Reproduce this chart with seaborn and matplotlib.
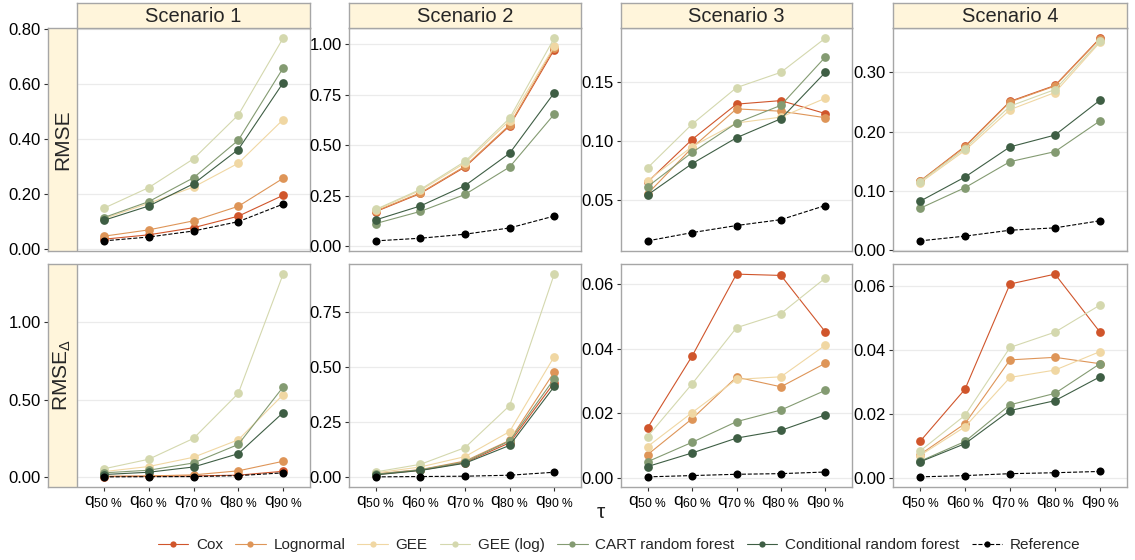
import numpy as np
import pandas as pd
import matplotlib
matplotlib.use("Agg")
import matplotlib.pyplot as plt
from matplotlib.patches import Rectangle
from matplotlib.lines import Line2D
import seaborn as sns

sns.set_theme(style="white")
plt.rcParams['font.family'] = ['Liberation Sans', 'DejaVu Sans']
plt.rcParams['mathtext.fontset'] = 'custom'
plt.rcParams['mathtext.rm'] = 'Liberation Sans'
plt.rcParams['mathtext.it'] = 'Liberation Sans'
plt.rcParams['mathtext.bf'] = 'Liberation Sans:bold'

# ---------------- data ----------------
quantiles = ["50", "60", "70", "80", "90"]
scenarios = ["Scenario 1", "Scenario 2", "Scenario 3", "Scenario 4"]
methods = ["Cox", "Lognormal", "GEE", "GEE (log)", "CART random forest",
           "Conditional random forest", "Reference"]
colors = ["#D0552B", "#DE9558", "#F0D7A3", "#D4D8AE", "#849B72", "#3E5E44", "#000000"]

rmse_s1 = {
    "Cox": [0.034, 0.050, 0.076, 0.118, 0.194],
    "Lognormal": [0.045, 0.068, 0.101, 0.154, 0.256],
    "GEE": [0.109, 0.165, 0.224, 0.311, 0.470],
    "GEE (log)": [0.147, 0.222, 0.327, 0.487, 0.767],
    "CART random forest": [0.113, 0.171, 0.258, 0.395, 0.658],
    "Conditional random forest": [0.103, 0.155, 0.236, 0.361, 0.604],
    "Reference": [0.028, 0.042, 0.064, 0.098, 0.162],
}
rmse_s2 = {
    "Cox": [0.171, 0.261, 0.392, 0.596, 0.974],
    "Lognormal": [0.174, 0.264, 0.396, 0.601, 0.984],
    "GEE": [0.179, 0.276, 0.412, 0.622, 0.990],
    "GEE (log)": [0.182, 0.281, 0.420, 0.634, 1.031],
    "CART random forest": [0.112, 0.172, 0.256, 0.392, 0.654],
    "Conditional random forest": [0.130, 0.199, 0.300, 0.460, 0.760],
    "Reference": [0.026, 0.039, 0.059, 0.090, 0.149],
}
rmse_s3 = {
    "Cox": [0.065, 0.101, 0.131, 0.134, 0.123],
    "Lognormal": [0.055, 0.094, 0.127, 0.125, 0.1195],
    "GEE": [0.066, 0.095, 0.115, 0.120, 0.136],
    "GEE (log)": [0.077, 0.114, 0.145, 0.158, 0.187],
    "CART random forest": [0.061, 0.090, 0.115, 0.130, 0.171],
    "Conditional random forest": [0.054, 0.0805, 0.1025, 0.1186, 0.158],
    "Reference": [0.015, 0.022, 0.028, 0.033, 0.045],
}
rmse_s4 = {
    "Cox": [0.116, 0.175, 0.251, 0.278, 0.358],
    "Lognormal": [0.116, 0.174, 0.250, 0.277, 0.357],
    "GEE": [0.113, 0.168, 0.237, 0.266, 0.351],
    "GEE (log)": [0.115, 0.171, 0.243, 0.271, 0.353],
    "CART random forest": [0.070, 0.105, 0.149, 0.166, 0.218],
    "Conditional random forest": [0.082, 0.123, 0.174, 0.194, 0.253],
    "Reference": [0.015, 0.023, 0.033, 0.037, 0.049],
}
rmsed_s1 = {
    "Cox": [0.002, 0.004, 0.006, 0.011, 0.036],
    "Lognormal": [0.004, 0.006, 0.013, 0.039, 0.101],
    "GEE": [0.034, 0.067, 0.127, 0.240, 0.532],
    "GEE (log)": [0.052, 0.114, 0.249, 0.541, 1.313],
    "CART random forest": [0.026, 0.043, 0.090, 0.210, 0.582],
    "Conditional random forest": [0.015, 0.030, 0.064, 0.150, 0.416],
    "Reference": [0.000, 0.001, 0.002, 0.008, 0.026],
}
rmsed_s2 = {
    "Cox": [0.0105, 0.030, 0.065, 0.155, 0.429],
    "Lognormal": [0.0136, 0.033, 0.072, 0.166, 0.477],
    "GEE": [0.018, 0.045, 0.092, 0.206, 0.547],
    "GEE (log)": [0.0226, 0.057, 0.133, 0.324, 0.922],
    "CART random forest": [0.012, 0.032, 0.068, 0.163, 0.446],
    "Conditional random forest": [0.009, 0.029, 0.062, 0.143, 0.411],
    "Reference": [0.000, 0.0015, 0.003, 0.0075, 0.021],
}
rmsed_s3 = {
    "Cox": [0.0155, 0.0377, 0.0631, 0.0627, 0.0452],
    "Lognormal": [0.0072, 0.0183, 0.0312, 0.0282, 0.0355],
    "GEE": [0.0097, 0.0202, 0.0305, 0.0313, 0.0411],
    "GEE (log)": [0.0128, 0.0291, 0.0465, 0.0509, 0.0619],
    "CART random forest": [0.0050, 0.0110, 0.0174, 0.0210, 0.0271],
    "Conditional random forest": [0.0035, 0.0077, 0.0123, 0.0147, 0.0195],
    "Reference": [0.0003, 0.0007, 0.0011, 0.0013, 0.0018],
}
rmsed_s4 = {
    "Cox": [0.0113, 0.0277, 0.0607, 0.0638, 0.0456],
    "Lognormal": [0.0072, 0.0169, 0.0369, 0.0377, 0.0357],
    "GEE": [0.0069, 0.0159, 0.0314, 0.0337, 0.0395],
    "GEE (log)": [0.0083, 0.0195, 0.0408, 0.0456, 0.0541],
    "CART random forest": [0.0051, 0.0113, 0.0228, 0.0264, 0.0357],
    "Conditional random forest": [0.0049, 0.0106, 0.0210, 0.0241, 0.0316],
    "Reference": [0.0002, 0.0006, 0.0012, 0.0015, 0.0019],
}

row_labels = ["RMSE", r"RMSE$_{\Delta}$"]
panels = [[rmse_s1, rmse_s2, rmse_s3, rmse_s4],
          [rmsed_s1, rmsed_s2, rmsed_s3, rmsed_s4]]
yticks = [[[0, 0.2, 0.4, 0.6, 0.8], [0, 0.25, 0.5, 0.75, 1.0], [0.05, 0.10, 0.15], [0, 0.1, 0.2, 0.3]],
          [[0, 0.5, 1.0], [0, 0.25, 0.5, 0.75], [0, 0.02, 0.04, 0.06], [0, 0.02, 0.04, 0.06]]]

# ---------------- layout (pixels) ----------------
W, H = 1135, 560
fig = plt.figure(figsize=(W / 100, H / 100), dpi=100)
cols_px = [(77, 310), (349, 581), (621, 852), (893, 1127)]
rows_px = [(28, 251), (264, 487)]
strip_left = 48
border_col = "#A6A6A6"
strip_fill = "#FFF5DB"

def fx(x):
    return x / W

def fy(y):
    return 1 - y / H

xlabels = [r"$\mathrm{q}_{\mathrm{%s\ \%%}}$" % q for q in quantiles]

for r in range(2):
    y0, y1 = rows_px[r]
    for c in range(4):
        x0, x1 = cols_px[c]
        ax_left = strip_left if c == 0 else x0
        ax = fig.add_axes([fx(ax_left), fy(y1), fx(x1 - ax_left), (y1 - y0) / H])
        data = panels[r][c]
        df = pd.DataFrame([(m, i, v) for m in methods for i, v in enumerate(data[m])],
                          columns=["method", "x", "value"])
        for m, col in zip(methods, colors):
            sub = df[df["method"] == m]
            sns.lineplot(data=sub, x="x", y="value", ax=ax, color=col,
                         linewidth=0.8, linestyle="--" if m == "Reference" else "-",
                         marker="o", markersize=6.3 if m != "Reference" else 5.8,
                         markeredgewidth=0, legend=False, zorder=3)
        # x range (ggplot discrete expansion)
        unit = (x1 - x0) / 5.2
        lo = -0.6 - (x0 - ax_left) / unit
        ax.set_xlim(lo, 4.6)
        ax.set_xticks(range(5))
        ax.margins(y=0.05)
        ax.set_yticks(yticks[r][c])
        ax.yaxis.set_major_formatter(matplotlib.ticker.FormatStrFormatter("%.2f"))
        ax.grid(axis="y", color="#EBEBEB", linewidth=0.9, zorder=0)
        ax.grid(axis="x", visible=False)
        ax.set_axisbelow(True)
        ax.set_xlabel("")
        ax.set_ylabel("")
        for s in ax.spines.values():
            s.set_color(border_col)
            s.set_linewidth(1.0)
        ax.tick_params(axis="both", which="major", length=3, width=0.8, color="#333333",
                       labelsize=12, labelcolor="black", pad=2, left=True, bottom=(r == 1))
        if r == 1:
            ax.set_xticklabels(xlabels, fontsize=12.5)
        else:
            ax.set_xticklabels([])
        if c == 0:
            frac = (x0 - ax_left) / (x1 - ax_left)
            rect = Rectangle((0, 0), frac, 1, transform=ax.transAxes, facecolor=strip_fill,
                             edgecolor="none", zorder=2.5)
            ax.add_patch(rect)
            ax.plot([frac, frac], [0, 1], transform=ax.transAxes, color=border_col,
                    linewidth=1.0, zorder=2.6)
            ax.text(frac / 2, 0.5, row_labels[r], transform=ax.transAxes, rotation=90,
                    ha="center", va="center", fontsize=15, zorder=4)
        # top strips
        if r == 0:
            sax = fig.add_axes([fx(x0), fy(y0), fx(x1 - x0), (y0 - 3) / H])
            sax.set_facecolor(strip_fill)
            sax.set_xticks([])
            sax.set_yticks([])
            for s in sax.spines.values():
                s.set_color(border_col)
                s.set_linewidth(1.0)
            sax.text(0.5, 0.45, scenarios[c], transform=sax.transAxes, ha="center",
                     va="center", fontsize=14.5)

fig.text(fx(601), fy(513), "τ", ha="center", va="center", fontsize=15)

handles = [Line2D([0], [0], color=col, linewidth=0.8,
                  linestyle="--" if m == "Reference" else "-",
                  marker="o", markersize=4.5, markeredgewidth=0)
           for m, col in zip(methods, colors)]
fig.legend(handles, methods, loc="center", bbox_to_anchor=(fx(619), fy(545)), ncol=7,
           frameon=False, fontsize=11, handlelength=2.0, handletextpad=0.5,
           columnspacing=0.8)

fig.savefig("out.png", dpi=100)
